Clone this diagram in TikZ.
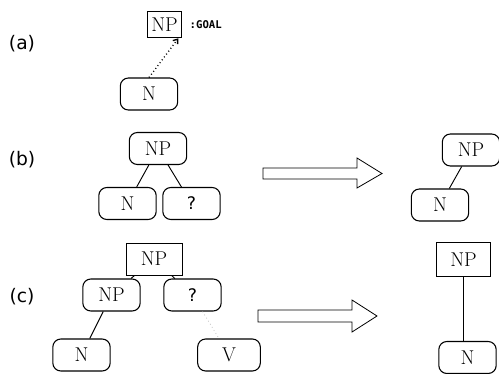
\documentclass[tikz,border=0pt]{standalone}
\usepackage{fontspec}
\newfontfamily\labelfont{DejaVu Sans}
\newfontfamily\goalfont{DejaVu Sans Mono}
\usetikzlibrary{arrows.meta}
\begin{document}
\begin{tikzpicture}[x=0.75pt,y=-0.75pt,
  rbox/.style={draw,rounded corners=6pt,line width=0.8pt,inner sep=0pt,
    minimum width=43pt,minimum height=24pt,font=\fontsize{15}{15}\selectfont},
  sbox/.style={draw,line width=0.7pt,inner sep=0pt,
    minimum width=42pt,minimum height=24pt,font=\fontsize{15}{15}\selectfont},
  unknown/.style={font=\labelfont\fontsize{13}{13}\selectfont},
  edge/.style={line width=0.7pt},
  caselabel/.style={font=\labelfont\fontsize{14}{14}\selectfont},
  bigarrow/.style={draw,line width=0.6pt,fill=white}]
\useasboundingbox (0,0) rectangle (499,374);

% (a) the goal NP and the N that points up to it
\node[caselabel] (la) at (22,44) {(a)};
\node[sbox,minimum width=26pt,minimum height=20pt] (anp) at (164.5,24.5) {NP};
\node[anchor=west,font=\goalfont\bfseries\fontsize{8}{8}\selectfont] (goal) at (185,25) {:GOAL};
\node[rbox] (an) at (149,94) {N};
\draw[edge,dotted,line width=1pt,-{Straight Barb[length=3pt,width=4.5pt]}]
  (an.north) -- ([xshift=-3pt]anp.south east);

% (b) NP with a known N and an unknown second daughter
\node[caselabel] (lb) at (22,160) {(b)};
\node[rbox] (bnp) at (158,148.5) {NP};
\node[rbox] (bn) at (127.5,203.5) {N};
\node[rbox,unknown] (bq) at (191.5,203.5) {?};
\draw[edge] (bnp) -- (bn);
\draw[edge] (bnp) -- (bq);

\draw[bigarrow] (263,168) -- (357,168) -- (357,158) -- (382,173.5)
  -- (357,188) -- (357,179) -- (263,179) -- cycle;

\node[rbox] (bnp2) at (471,150) {NP};
\node[rbox] (bn2) at (440,205) {N};
\draw[edge] (bnp2) -- (bn2);

% (c) NP over NP and an unknown daughter that may start with V
\node[caselabel] (lc) at (22,297) {(c)};
\node[sbox] (cnp) at (154,259) {NP};
\node[rbox] (cnp1) at (111.5,295) {NP};
\node[rbox,unknown] (cq) at (192.5,295) {?};
\node[rbox] (cn) at (81.5,355) {N};
\node[rbox,minimum width=47pt] (cv) at (229,355) {V};
\draw[edge] (cnp) -- (cnp1);
\draw[edge] (cnp) -- (cq);
\draw[edge] (cnp1) -- (cn);
\draw[edge,dotted,black!25,line width=0.5pt] (cq) -- (cv);

\draw[bigarrow] (258,310) -- (352,310) -- (352,300) -- (377,316)
  -- (352,332) -- (352,322) -- (258,322) -- cycle;

\node[sbox,minimum width=40pt,minimum height=26pt] (cnp2) at (463.5,259.5) {NP};
\node[rbox] (cn2) at (467.5,357.5) {N};
\draw[edge] (cnp2) -- (cnp2 |- cn2.north);
\end{tikzpicture}
\end{document}
